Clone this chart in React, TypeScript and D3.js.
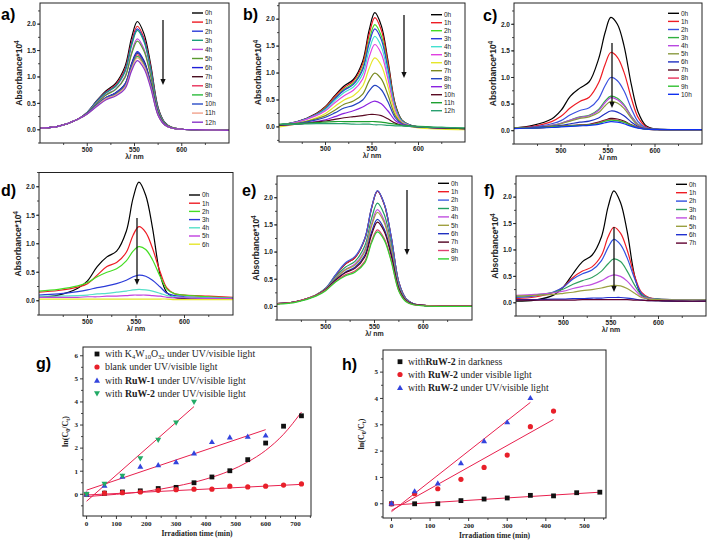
import React from 'react';
import * as d3 from 'd3';

// ---------- spectra data ----------
const WL = [450, 470, 490, 500, 510, 520, 530, 540, 547, 553, 560, 567, 575, 582, 590, 600, 625, 650];

const hoursA = ['0h','1h','2h','3h','4h','5h','6h','7h','8h','9h','10h','11h','12h'];
const specA = [
  [.03,.07,.2,.33,.55,.74,.88,1.2,1.75,2.05,1.82,1.25,.42,.14,.04,.01,0,-.01],
  [.03,.07,.2,.33,.54,.72,.85,1.15,1.67,1.96,1.74,1.2,.4,.13,.04,.01,0,-.01],
  [.03,.07,.2,.33,.54,.71,.83,1.12,1.63,1.91,1.7,1.17,.39,.13,.04,.01,0,-.01],
  [.03,.07,.2,.33,.53,.7,.82,1.1,1.6,1.88,1.67,1.15,.39,.13,.04,.01,0,-.01],
  [.03,.07,.2,.32,.51,.67,.77,1.01,1.47,1.72,1.53,1.05,.36,.12,.04,.01,0,-.01],
  [.03,.07,.2,.32,.5,.66,.76,.99,1.44,1.68,1.49,1.03,.35,.12,.04,.01,0,-.01],
  [.03,.07,.2,.31,.47,.61,.7,.87,1.26,1.48,1.31,.9,.31,.1,.03,.01,0,-.01],
  [.03,.07,.2,.31,.47,.61,.69,.86,1.24,1.45,1.29,.89,.3,.1,.03,.01,0,-.01],
  [.03,.07,.2,.31,.46,.6,.68,.84,1.21,1.42,1.25,.86,.29,.1,.03,.01,0,-.01],
  [.03,.07,.2,.3,.46,.59,.67,.82,1.18,1.39,1.23,.84,.28,.09,.03,.01,0,-.01],
  [.03,.07,.2,.31,.47,.61,.69,.86,1.23,1.46,1.28,.88,.3,.1,.03,.01,0,-.01],
  [.03,.07,.2,.3,.45,.59,.66,.81,1.16,1.36,1.21,.83,.28,.09,.03,.01,0,-.01],
  [.03,.07,.2,.3,.44,.57,.64,.78,1.12,1.31,1.16,.8,.27,.09,.03,.01,0,-.01],
];
const colorsA = ['#000000','#ee1c24','#2b3bd8','#1a9e78','#b848e0','#5a9a30','#1f1fd8','#4a0f20','#e8305a','#2dbb3c','#2a4cc8','#f2a28c','#8a36c8'];

const hoursB = ['0h','1h','2h','3h','4h','5h','6h','7h','8h','9h','10h','11h','12h'];
const specB = [
  [.04,.1,.25,.38,.58,.76,.88,1.22,1.8,2.12,1.88,1.25,.42,.13,.04,0,-.02,-.03],
  [.04,.1,.24,.37,.56,.73,.85,1.17,1.72,2.03,1.8,1.2,.4,.12,.04,0,-.02,-.03],
  [.04,.1,.23,.35,.53,.7,.81,1.1,1.61,1.9,1.69,1.12,.38,.12,.04,0,-.02,-.03],
  [.04,.1,.23,.34,.52,.68,.79,1.06,1.55,1.82,1.62,1.08,.36,.11,.04,0,-.02,-.03],
  [.04,.09,.22,.32,.49,.64,.74,.98,1.43,1.68,1.49,.99,.34,.1,.03,0,-.02,-.03],
  [.03,.09,.21,.3,.45,.58,.68,.89,1.3,1.53,1.36,.9,.31,.09,.03,0,-.02,-.03],
  [0,.06,.17,.25,.38,.5,.58,.76,1.09,1.28,1.14,.76,.26,.08,.02,-.02,-.04,-.05],
  [.03,.07,.15,.21,.31,.42,.48,.61,.86,1.0,.89,.6,.21,.07,.02,0,-.02,-.03],
  [.03,.06,.13,.18,.26,.35,.4,.5,.67,.77,.69,.47,.17,.06,.02,0,-.02,-.03],
  [.03,.05,.1,.13,.19,.25,.3,.37,.44,.48,.43,.3,.12,.05,.02,0,-.02,-.03],
  [.03,.05,.09,.11,.14,.17,.19,.21,.23,.23,.21,.15,.07,.03,.01,0,-.02,-.03],
  [.05,.06,.08,.09,.1,.1,.1,.1,.1,.1,.09,.07,.05,.03,.02,.01,-.01,-.02],
  [.04,.05,.06,.06,.06,.06,.05,.05,.05,.04,.04,.03,.02,.02,.01,0,-.01,-.02],
];
const colorsB = ['#000000','#ee1c24','#44dd22','#2b3bd8','#44e0d0','#e040e0','#e6e62a','#7a8a20','#2444c0','#8a22e0','#5a0a22','#1ea030','#2aa070'];

const hoursC = ['0h','1h','2h','3h','4h','5h','6h','7h','8h','9h','10h'];
const specC = [
  [.05,.1,.22,.38,.65,.8,.92,1.35,1.85,2.13,2.0,1.6,.85,.35,.1,.03,.02,.02],
  [.05,.08,.17,.27,.43,.55,.63,.9,1.25,1.47,1.38,1.1,.6,.25,.08,.03,.02,.02],
  [.05,.07,.13,.19,.3,.38,.43,.6,.85,1.0,.94,.75,.41,.17,.06,.03,.02,.02],
  [.05,.06,.1,.14,.2,.26,.29,.4,.56,.65,.61,.49,.27,.12,.05,.03,.02,.02],
  [.05,.06,.1,.14,.2,.25,.28,.38,.53,.62,.58,.47,.26,.11,.05,.03,.02,.02],
  [.05,.06,.09,.13,.18,.23,.26,.34,.47,.55,.52,.42,.23,.1,.04,.03,.02,.02],
  [.05,.06,.08,.1,.13,.16,.18,.24,.32,.37,.35,.28,.16,.08,.04,.03,.02,.02],
  [.05,.05,.07,.08,.1,.11,.12,.16,.2,.23,.22,.18,.11,.06,.03,.02,.02,.02],
  [.05,.05,.07,.08,.09,.1,.11,.15,.19,.21,.2,.16,.1,.06,.03,.02,.02,.02],
  [.05,.05,.07,.08,.09,.1,.11,.14,.18,.2,.19,.16,.1,.05,.03,.02,.02,.02],
  [.04,.05,.06,.07,.08,.09,.1,.12,.15,.17,.16,.13,.08,.05,.03,.02,.02,.02],
];
const colorsC = ['#000000','#ee1c24','#3a50e0','#30b040','#b848e0','#8a9a40','#2030c0','#5a0a22','#e8305a','#30c030','#1030f0'];

const hoursD = ['0h','1h','2h','3h','4h','5h','6h'];
const specD = [
  [.06,.1,.22,.35,.6,.77,.87,1.22,1.8,2.08,1.85,1.28,.45,.14,.06,.04,.03,.03],
  [.15,.18,.24,.3,.45,.6,.67,.85,1.15,1.3,1.2,.92,.5,.22,.12,.1,.08,.06],
  [.17,.2,.26,.32,.42,.5,.56,.7,.87,.95,.9,.72,.42,.2,.12,.1,.07,.05],
  [.1,.12,.16,.19,.23,.26,.3,.36,.42,.45,.43,.36,.24,.13,.09,.07,.05,.04],
  [.08,.08,.09,.1,.12,.13,.15,.17,.19,.2,.19,.17,.13,.09,.07,.06,.05,.04],
  [.06,.06,.06,.07,.07,.08,.08,.09,.1,.1,.1,.09,.08,.06,.05,.05,.04,.04],
  [.03,.03,.03,.03,.03,.03,.03,.03,.03,.03,.03,.03,.03,.03,.02,.02,.02,.02],
];
const colorsD = ['#000000','#ee1c24','#44dd22','#2b3bd8','#55e0c8','#c040e0','#e6e62a'];

const hoursE = ['0h','1h','2h','3h','4h','5h','6h','7h','8h','9h'];
const specE = [
  [.05,.09,.21,.33,.57,.78,.9,1.24,1.81,2.12,1.88,1.29,.44,.15,.05,.02,.01,.01],
  [.05,.09,.21,.33,.57,.78,.9,1.24,1.81,2.12,1.88,1.29,.44,.15,.05,.02,.01,.01],
  [.05,.09,.21,.34,.58,.8,.92,1.25,1.82,2.13,1.89,1.3,.44,.15,.05,.02,.01,.01],
  [.05,.09,.21,.33,.54,.72,.83,1.11,1.62,1.9,1.69,1.16,.39,.13,.04,.02,.01,.01],
  [.05,.09,.21,.32,.52,.68,.78,1.04,1.52,1.78,1.58,1.09,.37,.12,.04,.02,.01,.01],
  [.05,.09,.21,.32,.51,.67,.76,1.01,1.48,1.73,1.54,1.06,.36,.12,.04,.02,.01,.01],
  [.05,.09,.2,.31,.49,.63,.72,.94,1.37,1.6,1.42,.98,.33,.11,.04,.02,.01,.01],
  [.05,.09,.2,.31,.48,.62,.7,.91,1.32,1.55,1.38,.95,.32,.11,.04,.02,.01,.01],
  [.05,.09,.2,.3,.46,.58,.65,.83,1.2,1.41,1.25,.86,.29,.1,.03,.02,.01,.01],
  [.04,.08,.19,.29,.45,.56,.63,.8,1.17,1.37,1.22,.84,.28,.09,.03,.01,0,0],
];
const colorsE = ['#000000','#ee1c24','#4060e0','#20a060','#c050e0','#a0a040','#2030c0','#500020','#e04070','#30d030'];

const hoursF = ['0h','1h','2h','3h','4h','5h','6h','7h'];
const specF = [
  [.03,.05,.15,.3,.55,.78,.9,1.25,1.82,2.12,1.9,1.35,.5,.15,.06,.04,.03,.03],
  [.08,.11,.2,.3,.48,.6,.68,.9,1.25,1.43,1.32,1.0,.5,.2,.1,.07,.06,.06],
  [.1,.13,.21,.3,.45,.55,.62,.8,1.05,1.2,1.1,.85,.45,.18,.09,.07,.06,.06],
  [.12,.15,.2,.26,.35,.42,.48,.6,.74,.83,.78,.6,.33,.15,.09,.07,.06,.06],
  [.14,.16,.19,.22,.27,.31,.35,.42,.49,.53,.5,.41,.25,.12,.08,.06,.05,.05],
  [.13,.14,.16,.18,.2,.23,.25,.28,.31,.33,.32,.27,.18,.1,.07,.06,.05,.05],
  [.06,.06,.07,.07,.08,.08,.09,.09,.1,.1,.1,.09,.07,.05,.04,.04,.03,.03],
  [.05,.05,.05,.05,.05,.06,.06,.06,.06,.06,.06,.06,.05,.05,.04,.04,.03,.03],
];
const colorsF = ['#000000','#ee1c24','#3050e0','#30a060','#c050e0','#9aa040','#2030d0','#600030'];

// ---------- kinetics data ----------
const timeG = [0, 60, 120, 180, 240, 300, 360, 420, 480, 540, 600, 660, 720];
const gK4W = [0, 0.05, 0.1, 0.15, 0.25, 0.3, 0.5, 0.75, 1.02, 1.5, 2.22, 2.95, 3.4];
const gBlank = [0, 0.05, 0.07, 0.1, 0.17, 0.2, 0.22, 0.22, 0.35, 0.32, 0.35, 0.4, 0.45];
const timeGRuW1 = [0, 60, 120, 180, 240, 300, 360, 420, 480, 540, 600];
const gRuW1 = [0, 0.38, 0.77, 1.2, 1.27, 1.4, 1.78, 2.27, 2.47, 2.5, 2.55];
const timeGRuW2 = [0, 60, 120, 180, 240, 300, 360];
const gRuW2 = [0, 0.45, 0.8, 1.55, 2.35, 3.1, 4.0];
const fitGK4W = [[0, -0.1], [100, 0.0], [200, 0.13], [300, 0.35], [400, 0.66], [480, 1.02], [540, 1.4], [600, 1.9], [660, 2.6], [720, 3.56]];
const fitGBlank = [[0, -0.03], [720, 0.43]];
const fitGRuW1 = [[0, 0.18], [600, 2.8]];
const fitGRuW2 = [[0, -0.3], [360, 3.8]];

const timeHDark = [0, 60, 120, 180, 240, 300, 360, 420, 480, 540];
const hDark = [0, 0, 0, 0.12, 0.18, 0.22, 0.32, 0.3, 0.42, 0.44];
const timeHVis = [0, 60, 120, 180, 240, 300, 360, 420];
const hVis = [0, 0.38, 0.57, 0.93, 1.38, 1.85, 2.93, 3.52];
const timeHUV = [0, 60, 120, 180, 240, 300, 360];
const hUV = [0.02, 0.48, 0.78, 1.55, 2.38, 3.1, 4.02];
const fitHDark = [[0, -0.05], [540, 0.44]];
const fitHVis = [[0, -0.25], [420, 3.2]];
const fitHUV = [[0, -0.3], [360, 3.85]];

// ---------- layout ----------
const SANS = '"Liberation Sans", Arial, sans-serif';
const SERIF = '"Liberation Serif", "Times New Roman", serif';

const spectraPanels = [
  { id: 'a', label: 'a)', lab: [1, 20], box: [40, 3, 229, 143], yDom: [-0.25, 2.4], names: hoursA, data: specA, colors: colorsA, leg: [192, 13, 9.1], arrow: [163, 20, 85] },
  { id: 'b', label: 'b)', lab: [243, 20], box: [279, 3, 465, 142], yDom: [-0.28, 2.3], names: hoursB, data: specB, colors: colorsB, leg: [431, 14.7, 8.0], arrow: [404, 15, 78] },
  { id: 'c', label: 'c)', lab: [483, 21], box: [514, 3, 702, 144], yDom: [-0.25, 2.4], names: hoursC, data: specC, colors: colorsC, leg: [668, 13.3, 8.1], arrow: [612, 43, 108] },
  { id: 'd', label: 'd)', lab: [1, 196], box: [39, 172.5, 233, 315], yDom: [-0.25, 2.25], names: hoursD, data: specD, colors: colorsD, leg: [189, 195, 8.2], arrow: [137, 218, 285] },
  { id: 'e', label: 'e)', lab: [242, 196], box: [277, 176, 472, 320], yDom: [-0.25, 2.4], names: hoursE, data: specE, colors: colorsE, leg: [438, 183.3, 8.4], arrow: [407, 190, 255] },
  { id: 'f', label: 'f)', lab: [484, 196], box: [516, 176, 706, 316], yDom: [-0.25, 2.4], names: hoursF, data: specF, colors: colorsF, leg: [676, 184.3, 8.4], arrow: [614, 227, 292] },
];

function Arrow({ x, y1, y2 }: { x: number; y1: number; y2: number }) {
  return (
    <g>
      <line x1={x} x2={x} y1={y1} y2={y2 - 5} stroke="#111" strokeWidth={1.3} />
      <path d={`M${x - 2.6},${y2 - 6} L${x + 2.6},${y2 - 6} L${x},${y2} Z`} fill="#111" />
    </g>
  );
}

function SpecPanel({ p }: { p: any }) {
  const [x0, y0, x1, y1] = p.box;
  const x = d3.scaleLinear().domain([450, 650]).range([x0, x1]);
  const y = d3.scaleLinear().domain(p.yDom).range([y1, y0]);
  const line = d3.line<number>().x((_, i) => x(WL[i])).y((d) => y(d)).curve(d3.curveCatmullRom.alpha(0.5));
  const yMajor = [0, 0.5, 1, 1.5, 2].filter((v) => v >= p.yDom[0] && v <= p.yDom[1]);
  const yMinor = d3.range(-0.25, 2.5, 0.25).filter((v) => v >= p.yDom[0] && v <= p.yDom[1]);
  const xMajor = [500, 550, 600];
  const xMinor = [475, 525, 575, 625];
  const clipId = `clip-${p.id}`;
  return (
    <g>
      <defs>
        <clipPath id={clipId}>
          <rect x={x0} y={y0} width={x1 - x0} height={y1 - y0} />
        </clipPath>
      </defs>
      <text x={p.lab[0]} y={p.lab[1]} fontFamily={SANS} fontWeight="bold" fontSize={16}>{p.label}</text>
      <g clipPath={`url(#${clipId})`}>
        {p.data.map((s: number[], i: number) => (
          <path key={i} d={line(s) || ''} fill="none" stroke={p.colors[i]} strokeWidth={1.2} />
        ))}
      </g>
      <rect x={x0} y={y0} width={x1 - x0} height={y1 - y0} fill="none" stroke="#222" strokeWidth={1} />
      {yMinor.map((v) => (
        <line key={'ym' + v} x1={x0 - 2} x2={x0} y1={y(v)} y2={y(v)} stroke="#222" strokeWidth={0.8} />
      ))}
      {yMajor.map((v) => (
        <g key={'y' + v}>
          <line x1={x0 - 3} x2={x0} y1={y(v)} y2={y(v)} stroke="#222" strokeWidth={0.9} />
          <text x={x0 - 4} y={y(v) + 2.3} textAnchor="end" fontFamily={SANS} fontWeight="bold" fontSize={6.5} fill="#222">{v.toFixed(1)}</text>
        </g>
      ))}
      {xMinor.map((v) => (
        <line key={'xm' + v} x1={x(v)} x2={x(v)} y1={y1} y2={y1 + 2} stroke="#222" strokeWidth={0.8} />
      ))}
      {xMajor.map((v) => (
        <g key={'x' + v}>
          <line x1={x(v)} x2={x(v)} y1={y1} y2={y1 + 3} stroke="#222" strokeWidth={0.9} />
          <text x={x(v)} y={y1 + 9} textAnchor="middle" fontFamily={SANS} fontWeight="bold" fontSize={6.5} fill="#222">{v}</text>
        </g>
      ))}
      <text x={(x0 + x1) / 2} y={y1 + 16} textAnchor="middle" fontFamily={SANS} fontWeight="bold" fontSize={7} fill="#222">λ/ nm</text>
      <text transform={`translate(${x0 - 18},${(y0 + y1) / 2}) rotate(-90)`} textAnchor="middle" fontFamily={SANS} fontWeight="bold" fontSize={8.5} fill="#222">
        Absorbance*10<tspan dy={-3} fontSize={6.5}>4</tspan>
      </text>
      {p.names.map((n: string, i: number) => {
        const ly = p.leg[1] + i * p.leg[2];
        return (
          <g key={'l' + i}>
            <line x1={p.leg[0]} x2={p.leg[0] + 11} y1={ly} y2={ly} stroke={p.colors[i]} strokeWidth={1.4} />
            <text x={p.leg[0] + 13} y={ly + 2.3} fontFamily={SANS} fontSize={6.5} fill="#222">{n}</text>
          </g>
        );
      })}
      <Arrow x={p.arrow[0]} y1={p.arrow[1]} y2={p.arrow[2]} />
    </g>
  );
}

function Marker({ type, x, y, color }: { type: string; x: number; y: number; color: string }) {
  if (type === 'square') return <rect x={x - 2.4} y={y - 2.4} width={4.8} height={4.8} fill={color} />;
  if (type === 'circle') return <circle cx={x} cy={y} r={2.6} fill={color} />;
  if (type === 'tri') return <path d={`M${x},${y - 3} L${x + 3},${y + 2.2} L${x - 3},${y + 2.2} Z`} fill={color} />;
  return <path d={`M${x},${y + 3} L${x + 3},${y - 2.2} L${x - 3},${y - 2.2} Z`} fill={color} />;
}

const FITRED = '#e8204e';

function KinPanel(props: any) {
  const { box, xDom, yDom, xMajor, yMajor, series, fits, legend, label, lab, ylabX } = props;
  const [x0, y0, x1, y1] = box;
  const x = d3.scaleLinear().domain(xDom).range([x0, x1]);
  const y = d3.scaleLinear().domain(yDom).range([y1, y0]);
  const straight = d3.line<number[]>().x((d) => x(d[0])).y((d) => y(d[1]));
  const smooth = d3.line<number[]>().x((d) => x(d[0])).y((d) => y(d[1])).curve(d3.curveMonotoneX);
  const xMinor = d3.range(xMajor[0] + 50, xDom[1], 100);
  const yMinor = d3.range(-0.5, yDom[1], 1).filter((v: number) => v > yDom[0]);
  const clipId = 'clip-' + label;
  return (
    <g>
      <defs>
        <clipPath id={clipId}><rect x={x0} y={y0} width={x1 - x0} height={y1 - y0} /></clipPath>
      </defs>
      <text x={lab[0]} y={lab[1]} fontFamily={SANS} fontWeight="bold" fontSize={16}>{label}</text>
      <g clipPath={`url(#${clipId})`}>
        {fits.map((f: any, i: number) => (
          <path key={i} d={(f.smooth ? smooth : straight)(f.pts) || ''} fill="none" stroke={FITRED} strokeWidth={1} />
        ))}
        {series.map((s: any, i: number) => (
          <g key={i}>
            {s.ys.map((v: number, j: number) => (
              <Marker key={j} type={s.type} x={x(s.xs[j])} y={y(v)} color={s.color} />
            ))}
          </g>
        ))}
      </g>
      <rect x={x0} y={y0} width={x1 - x0} height={y1 - y0} fill="none" stroke="#222" strokeWidth={1} />
      {yMinor.map((v: number) => (
        <line key={'ym' + v} x1={x0 - 2} x2={x0} y1={y(v)} y2={y(v)} stroke="#222" strokeWidth={0.8} />
      ))}
      {yMajor.map((v: number) => (
        <g key={'y' + v}>
          <line x1={x0 - 3} x2={x0} y1={y(v)} y2={y(v)} stroke="#222" strokeWidth={0.9} />
          <text x={x0 - 5} y={y(v) + 2.3} textAnchor="end" fontFamily={SERIF} fontWeight="bold" fontSize={7} fill="#222">{v}</text>
        </g>
      ))}
      {xMinor.map((v: number) => (
        <line key={'xm' + v} x1={x(v)} x2={x(v)} y1={y1} y2={y1 + 2} stroke="#222" strokeWidth={0.8} />
      ))}
      {xMajor.map((v: number) => (
        <g key={'x' + v}>
          <line x1={x(v)} x2={x(v)} y1={y1} y2={y1 + 3} stroke="#222" strokeWidth={0.9} />
          <text x={x(v)} y={y1 + 10} textAnchor="middle" fontFamily={SERIF} fontWeight="bold" fontSize={7} fill="#222">{v}</text>
        </g>
      ))}
      <text x={(x0 + x1) / 2} y={y1 + 20} textAnchor="middle" fontFamily={SERIF} fontWeight="bold" fontSize={7.5} fill="#222">Irradiation time (min)</text>
      <text transform={`translate(${ylabX},${(y0 + y1) / 2}) rotate(-90)`} textAnchor="middle" fontFamily={SERIF} fontWeight="bold" fontSize={8} fill="#222">
        ln(C<tspan dy={2} fontSize={6}>0</tspan><tspan dy={-2}>/C</tspan><tspan dy={2} fontSize={6}>t</tspan><tspan dy={-2}>)</tspan>
      </text>
      {legend.map((l: any, i: number) => (
        <g key={'lg' + i}>
          <Marker type={l.type} x={l.mx} y={l.y} color={l.color} />
          <text x={l.mx + 8} y={l.y + 3.2} fontFamily={SERIF} fontSize={9.8} fill="#222">{l.content}</text>
        </g>
      ))}
    </g>
  );
}

export default function App() {
  const gSeries = [
    { xs: timeG, ys: gK4W, type: 'square', color: '#111111' },
    { xs: timeG, ys: gBlank, type: 'circle', color: '#e8202a' },
    { xs: timeGRuW1, ys: gRuW1, type: 'tri', color: '#3344dd' },
    { xs: timeGRuW2, ys: gRuW2, type: 'itri', color: '#22aa66' },
  ];
  const gFits = [
    { pts: fitGK4W, smooth: true },
    { pts: fitGBlank },
    { pts: fitGRuW1 },
    { pts: fitGRuW2 },
  ];
  const gLegend = [
    { type: 'square', color: '#111111', mx: 97, y: 354, content: (<>with K<tspan dy={2} fontSize={6.5}>4</tspan><tspan dy={-2}>W</tspan><tspan dy={2} fontSize={6.5}>10</tspan><tspan dy={-2}>O</tspan><tspan dy={2} fontSize={6.5}>32</tspan><tspan dy={-2}> under UV/visible light</tspan></>) },
    { type: 'circle', color: '#e8202a', mx: 97, y: 367, content: 'blank under UV/visible light' },
    { type: 'tri', color: '#3344dd', mx: 97, y: 380.5, content: (<>with <tspan fontWeight="bold">RuW-1</tspan> under UV/visible light</>) },
    { type: 'itri', color: '#22aa66', mx: 97, y: 393.5, content: (<>with <tspan fontWeight="bold">RuW-2</tspan> under UV/visible light</>) },
  ];
  const hSeries = [
    { xs: timeHDark, ys: hDark, type: 'square', color: '#111111' },
    { xs: timeHVis, ys: hVis, type: 'circle', color: '#e8202a' },
    { xs: timeHUV, ys: hUV, type: 'tri', color: '#3344dd' },
  ];
  const hFits = [{ pts: fitHDark }, { pts: fitHVis }, { pts: fitHUV }];
  const hLegend = [
    { type: 'square', color: '#111111', mx: 400, y: 361.7, content: (<>with<tspan fontWeight="bold">RuW-2</tspan> in darkness</>) },
    { type: 'circle', color: '#e8202a', mx: 400, y: 374.5, content: (<>with <tspan fontWeight="bold">RuW-2</tspan> under visible light</>) },
    { type: 'tri', color: '#3344dd', mx: 400, y: 387.7, content: (<>with <tspan fontWeight="bold">RuW-2</tspan> under UV/visible light</>) },
  ];
  return (
    <svg width={708} height={540} style={{ position: 'absolute', left: 0, top: 0, background: '#fff' }}>
      <rect x={0} y={0} width={708} height={540} fill="#fff" />
      {spectraPanels.map((p) => <SpecPanel key={p.id} p={p} />)}
      <KinPanel box={[83, 347, 311, 516]} xDom={[-12, 752]} yDom={[-0.94, 6.38]} xMajor={[0, 100, 200, 300, 400, 500, 600, 700]} yMajor={[0, 1, 2, 3, 4, 5, 6]}
        series={gSeries} fits={gFits} legend={gLegend} label="g)" lab={[36, 369]} ylabX={68} />
      <KinPanel box={[383, 350, 606, 518]} xDom={[-22, 556]} yDom={[-0.54, 5.84]} xMajor={[0, 100, 200, 300, 400, 500]} yMajor={[0, 1, 2, 3, 4, 5]}
        series={hSeries} fits={hFits} legend={hLegend} label="h)" lab={[342, 370]} ylabX={364} />
    </svg>
  );
}
